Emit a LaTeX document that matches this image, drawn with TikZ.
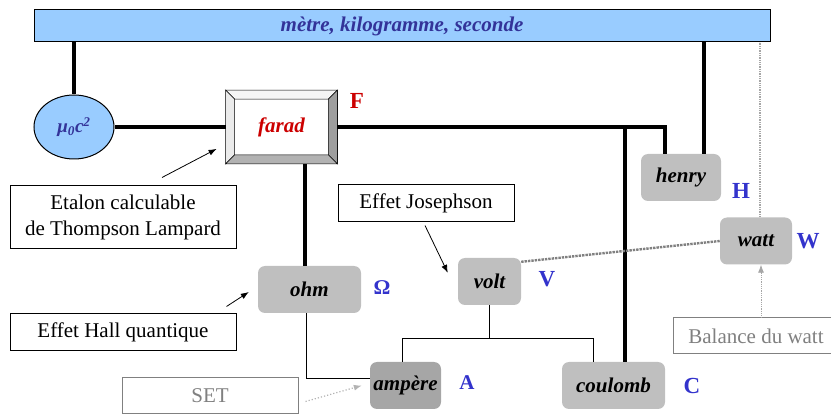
\documentclass[tikz,border=0pt]{standalone}
\usepackage{fontspec}
\setmainfont{Liberation Serif}
\newfontfamily\timesfont{Liberation Serif}
\usetikzlibrary{shapes.geometric,calc,arrows.meta}
\definecolor{barblue}{RGB}{153,204,255}
\definecolor{inkblue}{RGB}{51,51,153}
\definecolor{letterblue}{RGB}{51,51,204}
\definecolor{unitgray}{RGB}{191,191,191}
\definecolor{darkunit}{RGB}{166,166,166}
\definecolor{faradred}{RGB}{204,0,0}
\definecolor{notegray}{RGB}{128,128,128}

\begin{document}
\begin{tikzpicture}[x=1pt,y=-1pt,
        unit/.style={fill=unitgray,rounded corners=7pt,minimum height=47pt,inner sep=0pt,
            font=\timesfont\fontsize{21}{25}\selectfont\bfseries\itshape},
        note/.style={draw,line width=1pt,fill=white,inner sep=0pt,align=center,
            font=\timesfont\fontsize{21}{26}\selectfont},
        letter/.style={text=letterblue,inner sep=0pt,font=\timesfont\fontsize{23}{23}\selectfont\bfseries},
        link/.style={line width=3.5pt},
        wire/.style={line width=0.9pt},
        hint/.style={-{Latex[length=8pt,width=6pt]},line width=0.8pt}]
    \useasboundingbox (0,0) rectangle (831,414);

    \node[draw,line width=1pt,fill=barblue,minimum width=736pt,minimum height=32pt,inner sep=0pt,
        text=inkblue,font=\timesfont\fontsize{21}{21}\selectfont\bfseries\itshape] (base) at (402,26) {mètre, kilogramme, seconde};
    \node[draw,line width=1pt,ellipse,fill=barblue,minimum width=80pt,minimum height=64pt,inner sep=0pt,
        text=inkblue,font=\timesfont\fontsize{19}{19}\selectfont\bfseries\itshape] (mu) at (74,127) {μ\textsubscript{0}c\textsuperscript{2}};

    \node[draw,line width=0.8pt,fill=white,minimum width=111pt,minimum height=73pt,inner sep=0pt,
        text=faradred,font=\timesfont\fontsize{21}{25}\selectfont\bfseries\itshape] (farad) at (281.5,127) {farad};
    \filldraw[line width=0.6pt,fill=white!96!black] (farad.north west) -- (farad.north east) -- ($(farad.north east)+(-9,9)$) -- ($(farad.north west)+(9,9)$) -- cycle;
    \filldraw[line width=0.6pt,fill=white!92!black] (farad.north west) -- ($(farad.north west)+(9,9)$) -- ($(farad.south west)+(9,-9)$) -- (farad.south west) -- cycle;
    \filldraw[line width=0.6pt,fill=white!62!black] (farad.north east) -- (farad.south east) -- ($(farad.south east)+(-9,-9)$) -- ($(farad.north east)+(-9,9)$) -- cycle;
    \filldraw[line width=0.6pt,fill=white!70!black] (farad.south west) -- (farad.south east) -- ($(farad.south east)+(-9,-9)$) -- ($(farad.south west)+(9,-9)$) -- cycle;
    \node[letter,text=faradred] (labF) at (357,101) {F};

    \node[unit,minimum width=80pt] (henry) at (681,177.5) {henry};
    \node[letter] (labH) at (741,191) {H};
    \node[unit,minimum width=72pt] (watt) at (756,241) {watt};
    \node[letter] (labW) at (808,241) {W};
    \node[unit,minimum width=103pt] (ohm) at (309.5,289.5) {ohm};
    \node[letter,font=\timesfont\fontsize{21}{21}\selectfont\bfseries] (labO) at (382,288) {Ω};
    \node[unit,minimum width=63pt] (volt) at (489.5,281.5) {volt};
    \node[letter] (labV) at (547,279) {V};
    \node[unit,minimum width=71pt,fill=darkunit] (ampere) at (405.5,385.5) {ampère};
    \node[letter,font=\timesfont\fontsize{21}{21}\selectfont\bfseries] (labA) at (467,383) {A};
    \node[unit,minimum width=103pt] (coulomb) at (613.5,385.5) {coulomb};
    \node[letter] (labC) at (692,386) {C};

    \node[note,minimum width=226pt,minimum height=63pt] (etalon) at (123,217.5) {Etalon calculable\\de Thompson Lampard};
    \node[note,minimum width=226pt,minimum height=37pt] (hall) at (123,332.5) {Effet Hall quantique};
    \node[note,minimum width=176pt,minimum height=37pt] (josephson) at (426,203.5) {Effet Josephson};
    \node[note,draw=notegray,text=notegray,minimum width=176pt,minimum height=35pt] (set) at (210,395.5) {SET};
    \node[note,draw=notegray,text=notegray,minimum width=166pt,minimum height=36pt] (balance) at (756,336) {Balance du watt};

    \draw[link] (mu.north) -- (mu.north |- base.south);
    \draw[link] (mu) -- (farad);
    \draw[link] (farad.east) -| ([xshift=-16pt]henry.north);
    \draw[link] ([xshift=23pt]henry.north) -- ([xshift=23pt]henry.north |- base.south);
    \draw[link] ([xshift=11.5pt]coulomb.north) -- ([xshift=11.5pt]coulomb.north |- farad.east);
    \draw[link] ([xshift=-4.5pt]ohm.north) -- ([xshift=-4.5pt]ohm.north |- farad.south);

    \draw[wire] ([xshift=-3.5pt]ohm.south) |- ([yshift=7.5pt]ampere.west);
    \coordinate (vj) at ($(volt.south)+(0,33)$);
    \draw[wire] (volt.south) -- (vj) -| ([xshift=-3.5pt]ampere.north);
    \draw[wire] (vj) -| ([xshift=-20.5pt]coulomb.north);

    \draw[notegray,line width=2.4pt,densely dotted] ([yshift=-4pt]volt.north east) -- (watt.west);
    \draw[notegray!70,line width=1.3pt,densely dotted] ([xshift=4pt]watt.north) -- ([xshift=4pt]watt.north |- base.south);
    \draw[hint,notegray!70,densely dotted] ([xshift=5pt]watt.south |- balance.north) -- ([xshift=5pt]watt.south);

    \draw[hint] ([xshift=39pt,yshift=8pt]etalon.north) -- ([xshift=-9pt,yshift=15pt]farad.south west);
    \draw[hint] ([xshift=-10pt,yshift=7pt]hall.north east) -- ([xshift=-9pt,yshift=-2.5pt]ohm.west);
    \draw[hint] ([xshift=-1pt,yshift=-3pt]josephson.south) -- ([xshift=-10pt,yshift=-15pt]volt.north west);
    \draw[hint,notegray!60,line width=1.2pt,dotted] ([xshift=7pt,yshift=-6pt]set.east) -- ([xshift=-8pt]ampere.west);
\end{tikzpicture}
\end{document}
